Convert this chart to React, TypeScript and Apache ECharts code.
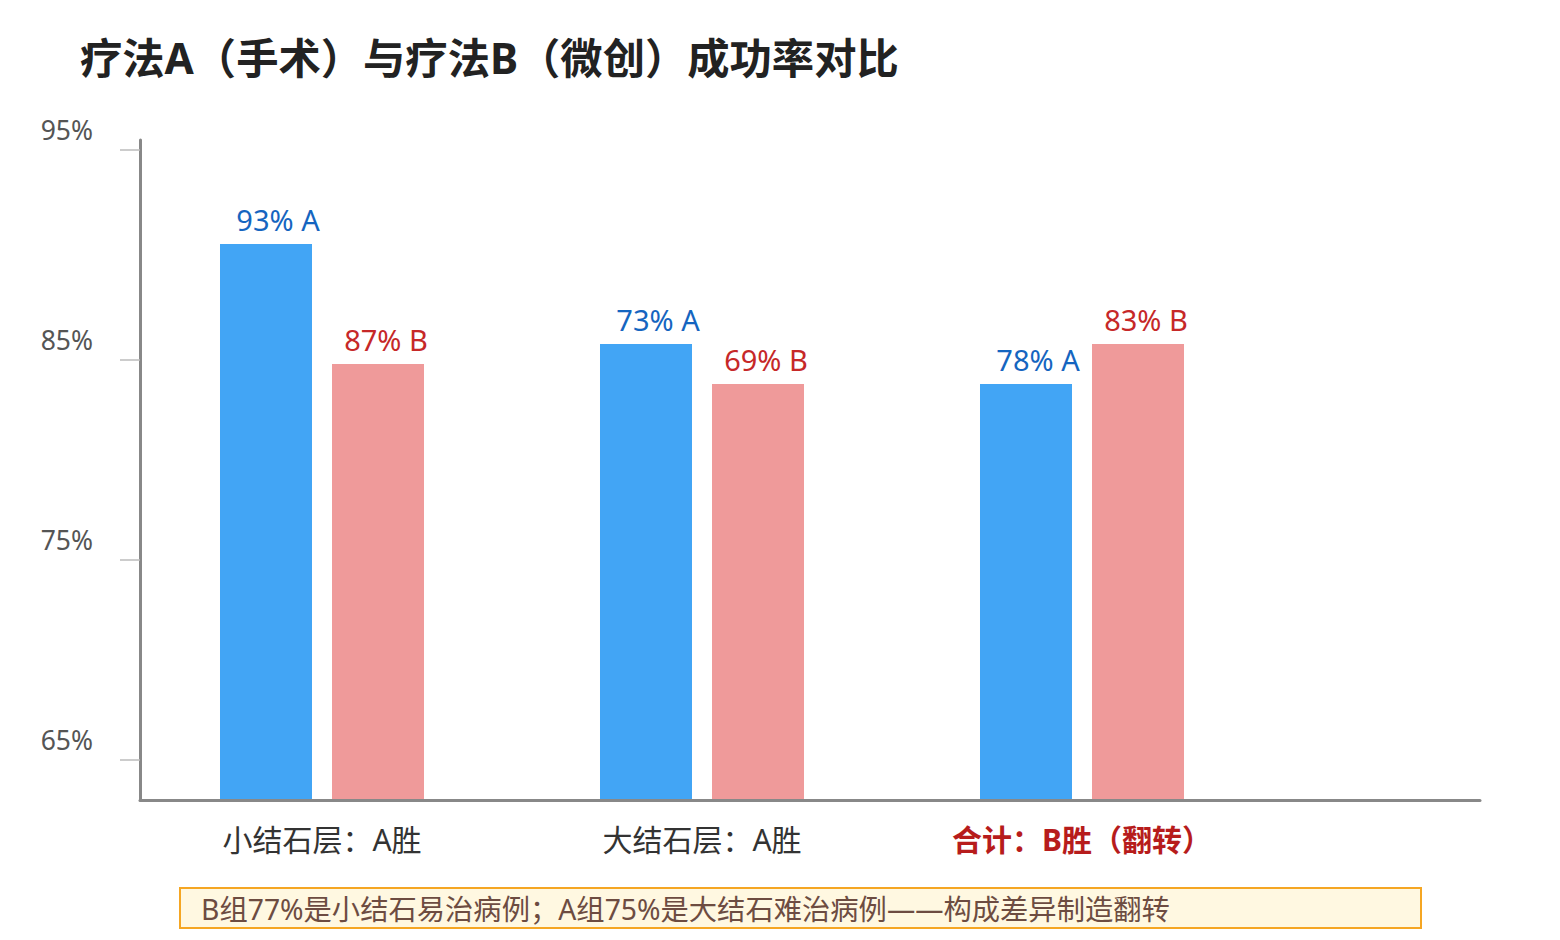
import { useEffect, useRef } from 'react'
import * as echarts from 'echarts'

const FONT = '"Noto Sans", "Noto Sans CJK SC", sans-serif'

const chartTitle = '疗法A（手术）与疗法B（微创）成功率对比'
const categories = ['小结石层：A胜', '大结石层：A胜', '合计：B胜（翻转）']
const highlighted = [false, false, true]
// bar heights as drawn against the y axis
const heightA = [90.8, 85.8, 83.8]
const heightB = [84.8, 83.8, 85.8]
// rates printed above the bars
const rateA = ['93%', '73%', '78%']
const rateB = ['87%', '69%', '83%']
const yTickValues = [65, 75, 85, 95.5]
const yTickLabels = ['65%', '75%', '85%', '95%']
const footNote = 'B组77%是小结石易治病例；A组75%是大结石难治病例——构成差异制造翻转'

const Y_MIN = 63
const Y_MAX = 96

export default function App() {
  const chartRef = useRef<HTMLDivElement>(null)

  useEffect(() => {
    if (!chartRef.current) return
    const chart = echarts.init(chartRef.current, null, { renderer: 'svg' })

    const option: echarts.EChartsOption = {
      animation: false,
      backgroundColor: '#ffffff',
      textStyle: { fontFamily: FONT },
      title: {
        text: chartTitle,
        left: 80,
        top: 36,
        padding: 0,
        textStyle: { fontSize: 42.3, fontWeight: 'bold', color: '#222222', fontFamily: FONT },
      },
      grid: [
        // frame with the visible axes
        { left: 140, right: 80, top: 140, bottom: 140 },
        // bars, three bands of equal width
        { left: 132, width: 1140, top: 140, bottom: 140 },
      ],
      xAxis: [
        {
          type: 'value',
          gridIndex: 0,
          min: 0,
          max: 1,
          z: 5,
          axisLine: { show: true, onZero: false, lineStyle: { color: '#888888', width: 3 } },
          axisTick: { show: false },
          axisLabel: { show: false },
          splitLine: { show: false },
        },
        {
          type: 'category',
          gridIndex: 1,
          data: categories,
          axisLine: { show: false },
          axisTick: { show: false },
          axisLabel: {
            margin: 23,
            formatter: (v: string, i: number) => (highlighted[i] ? `{hl|${v}}` : `{n|${v}}`),
            rich: {
              n: { fontSize: 30, lineHeight: 32, color: '#333333', fontFamily: FONT },
              hl: { fontSize: 30, lineHeight: 32, color: '#b71c1c', fontWeight: 'bold', fontFamily: FONT },
            },
          },
        },
      ],
      yAxis: [
        {
          type: 'value',
          gridIndex: 0,
          min: Y_MIN,
          max: Y_MAX,
          z: 5,
          axisLine: { show: true, onZero: false, lineStyle: { color: '#888888', width: 3 } },
          axisTick: {
            show: true,
            length: 20,
            customValues: yTickValues,
            lineStyle: { color: '#bbbbbb', width: 1.5 },
          },
          axisLabel: {
            show: true,
            customValues: yTickValues,
            formatter: (v: number) => yTickLabels[yTickValues.indexOf(v)] ?? '',
            margin: 47,
            fontSize: 26.5,
            color: '#555555',
            verticalAlign: 'bottom',
            padding: [0, 0, 7, 0],
            fontFamily: FONT,
          },
          splitLine: { show: false },
        },
        {
          type: 'value',
          gridIndex: 1,
          min: Y_MIN,
          max: Y_MAX,
          show: false,
        },
      ],
      series: [
        {
          name: 'A',
          type: 'bar',
          xAxisIndex: 1,
          yAxisIndex: 1,
          data: heightA,
          barWidth: 92,
          barGap: '21.74%',
          itemStyle: { color: '#42a5f5' },
          label: {
            show: true,
            position: 'top',
            distance: 10,
            offset: [12, 0],
            fontSize: 29,
            color: '#1565c0',
            fontFamily: FONT,
            formatter: (p: any) => `${rateA[p.dataIndex]} A`,
          },
        },
        {
          name: 'B',
          type: 'bar',
          xAxisIndex: 1,
          yAxisIndex: 1,
          data: heightB,
          barWidth: 92,
          barGap: '21.74%',
          itemStyle: { color: '#ef9a9a' },
          label: {
            show: true,
            position: 'top',
            distance: 10,
            offset: [8, 0],
            fontSize: 29,
            color: '#c62828',
            fontFamily: FONT,
            formatter: (p: any) => `${rateB[p.dataIndex]} B`,
          },
        },
      ],
      graphic: [
        {
          type: 'rect',
          shape: { x: 180, y: 888, width: 1241, height: 40 },
          style: { fill: '#fff8e1', stroke: '#f5a623', lineWidth: 2 },
        },
        {
          type: 'text',
          x: 201,
          y: 909,
          style: {
            text: footNote,
            font: `28.3px ${FONT}`,
            fill: '#6d4c41',
            verticalAlign: 'middle',
          },
        },
      ],
    }

    chart.setOption(option)
    return () => chart.dispose()
  }, [])

  return (
    <div
      ref={chartRef}
      style={{ position: 'fixed', left: 0, top: 0, width: 1560, height: 940 }}
    />
  )
}
